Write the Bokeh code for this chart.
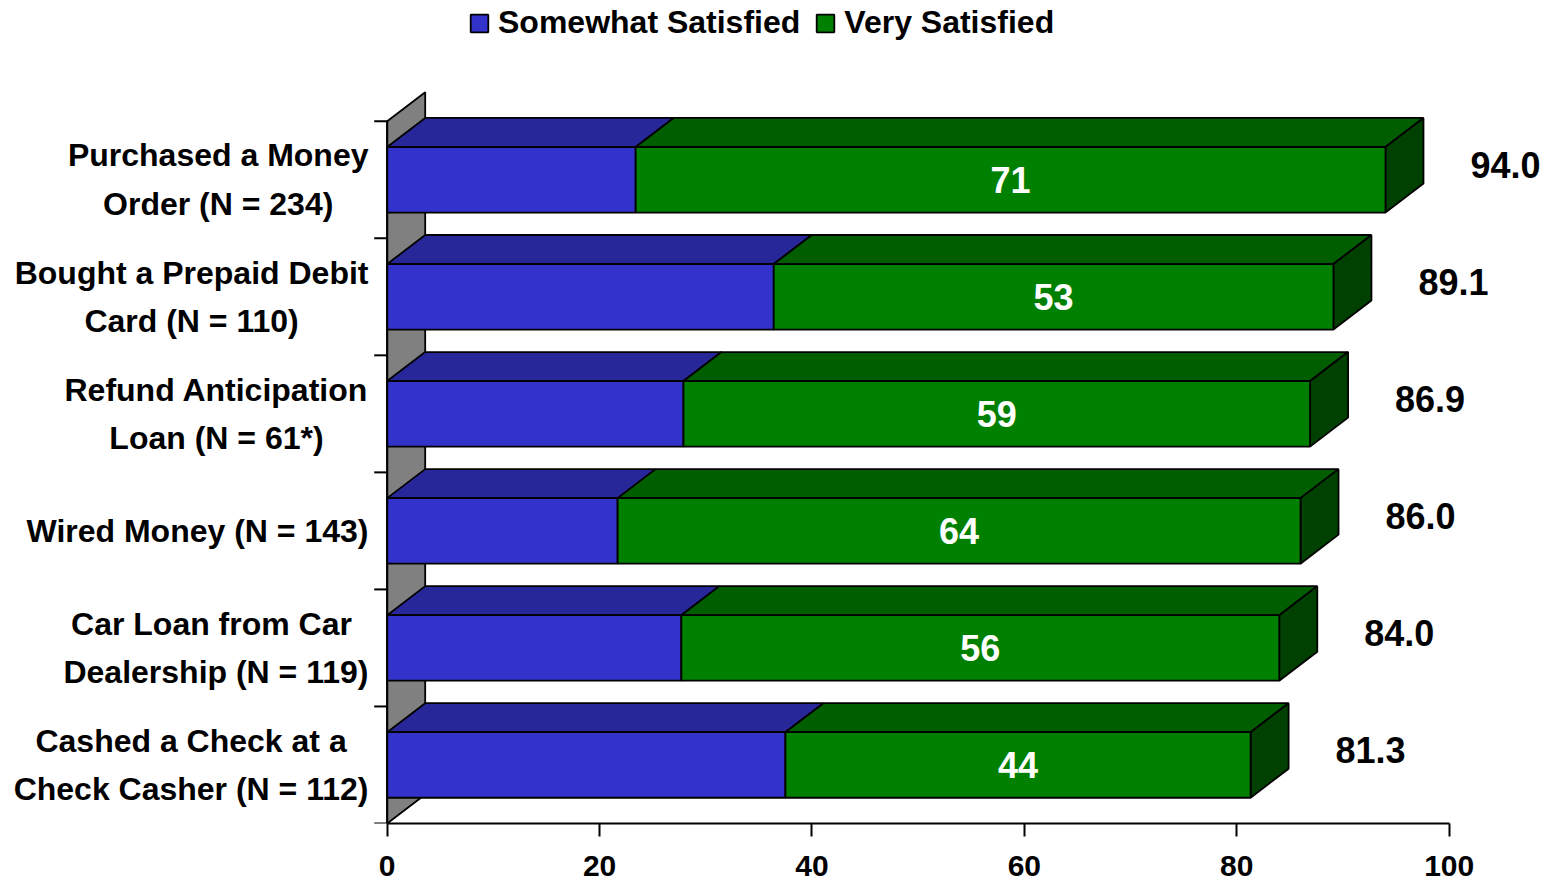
from bokeh.plotting import figure
from bokeh.models import (Range1d, LinearAxis, FixedTicker, Legend, LegendItem,
                          ColumnDataSource)
from bokeh.core.properties import value
from bokeh.embed import file_html
from bokeh.resources import INLINE

# Survey results: share of users satisfied with each service (%)
categories = [
    "Purchased a Money\nOrder (N = 234)",
    "Bought a Prepaid Debit\nCard (N = 110)",
    "Refund Anticipation\nLoan (N = 61*)",
    "Wired Money (N = 143)",
    "Car Loan from Car \nDealership (N = 119)",
    "Cashed a Check at a\nCheck Casher (N = 112)",
]
somewhat_satisfied = [23.4, 36.4, 27.9, 21.7, 27.7, 37.5]
very_satisfied = [70.6, 52.7, 59.0, 64.3, 56.3, 43.8]
x_ticks = [0, 20, 40, 60, 80, 100]

FONT = "Liberation Sans"
BLUE, BLUE_TOP = "#3333CC", "#272799"
GREEN, GREEN_TOP, GREEN_SIDE = "#008000", "#005E00", "#004000"
WALL = "#808080"

# 3D depth of the bars, in data units (x) and row units (y)
DX, DY = 3.58, 0.248
BAR_H = 0.56

n = len(categories)
ys = [n - 1 - k + 0.5 for k in range(n)]  # first category on top
totals = [s + v for s, v in zip(somewhat_satisfied, very_satisfied)]

p = figure(width=1545, height=880,
           x_range=Range1d(-36.41, 109.07), y_range=Range1d(0, 7.0316),
           x_axis_type=None, y_axis_type=None,
           min_border_left=0, min_border_right=0, min_border_top=0,
           min_border_bottom=57,
           toolbar_location=None, output_backend="svg")
p.outline_line_color = None
p.xgrid.visible = False
p.ygrid.visible = False
p.background_fill_color = "white"

# grey back wall on the left
p.patch([0, 0, DX, DX], [0, n, n + DY, DY],
        fill_color=WALL, line_color="black", line_width=1.8)

# top faces of both segments
def top_face(x0, x1, y):
    yt = y + BAR_H / 2
    return [x0, x0 + DX, x1 + DX, x1], [yt, yt + DY, yt + DY, yt]

blue_tops = [top_face(0, s, y) for s, y in zip(somewhat_satisfied, ys)]
green_tops = [top_face(s, t, y) for s, t, y in zip(somewhat_satisfied, totals, ys)]
p.patches([b[0] for b in blue_tops], [b[1] for b in blue_tops],
          fill_color=BLUE_TOP, line_color="black", line_width=1.8)
p.patches([g[0] for g in green_tops], [g[1] for g in green_tops],
          fill_color=GREEN_TOP, line_color="black", line_width=1.8)

# right side faces at the end of each bar
side_xs = [[t, t + DX, t + DX, t] for t in totals]
side_ys = [[y - BAR_H / 2, y - BAR_H / 2 + DY, y + BAR_H / 2 + DY, y + BAR_H / 2]
           for y in ys]
p.patches(side_xs, side_ys, fill_color=GREEN_SIDE, line_color="black",
          line_width=1.8)

src = ColumnDataSource(dict(
    y=ys, somewhat=somewhat_satisfied, very=very_satisfied, total=totals,
    mid=[s + v / 2 for s, v in zip(somewhat_satisfied, very_satisfied)],
    very_lbl=[f"{v:.0f}" for v in very_satisfied],
    total_lbl=[f"{t:.1f}" for t in totals],
    total_x=[t + 8.0 for t in totals],
    total_y=[y + 0.13 for y in ys],
    cat=categories,
))

r_some = p.hbar(y="y", left=0, right="somewhat", height=BAR_H, source=src,
                fill_color=BLUE, line_color="black", line_width=1.8)
r_very = p.hbar(y="y", left="somewhat", right="total", height=BAR_H, source=src,
                fill_color=GREEN, line_color="black", line_width=1.8)

# value labels
p.text(x="mid", y="y", text="very_lbl", source=src, text_color="white",
       text_font=value(FONT), text_font_style="bold", text_font_size="36px",
       text_align="center", text_baseline="middle")
p.text(x="total_x", y="total_y", text="total_lbl", source=src, text_color="black",
       text_font=value(FONT), text_font_style="bold", text_font_size="36px",
       text_align="left", text_baseline="middle")

# category labels
p.text(x=-1.76, y="y", text="cat", source=src, text_color="black",
       text_font=value(FONT), text_font_style="bold", text_font_size="32px",
       text_align="center", text_baseline="middle", anchor="center_right",
       text_line_height=1.35)

# vertical axis line with tick marks between categories
p.segment(x0=[0], y0=[0], x1=[0], y1=[n], line_color="black", line_width=2)
p.segment(x0=[-1.22] * (n + 1), y0=list(range(n + 1)), x1=[0] * (n + 1),
          y1=list(range(n + 1)), line_color="black", line_width=2)

xaxis = LinearAxis(ticker=FixedTicker(ticks=x_ticks), bounds=(0, 100))
xaxis.axis_line_width = 2
xaxis.major_tick_line_width = 2
xaxis.major_tick_out = 13
xaxis.major_tick_in = 0
xaxis.minor_tick_out = 0
xaxis.minor_tick_in = 0
xaxis.major_label_standoff = 19
xaxis.major_label_text_font = FONT
xaxis.major_label_text_font_style = "bold"
xaxis.major_label_text_font_size = "30px"
xaxis.major_label_text_color = "black"
p.add_layout(xaxis, "below")

legend = Legend(items=[LegendItem(label="Somewhat Satisfied", renderers=[r_some]),
                       LegendItem(label="Very Satisfied", renderers=[r_very])],
                orientation="horizontal", location=(468, 782),
                label_text_font=FONT, label_text_font_style="bold",
                label_text_font_size="32px", label_text_color="black",
                glyph_width=22, glyph_height=22,
                spacing=14, label_standoff=8, border_line_color=None,
                background_fill_alpha=0, padding=9, margin=0)
p.add_layout(legend, "center")

open("out.html", "w").write(file_html(p, INLINE))
